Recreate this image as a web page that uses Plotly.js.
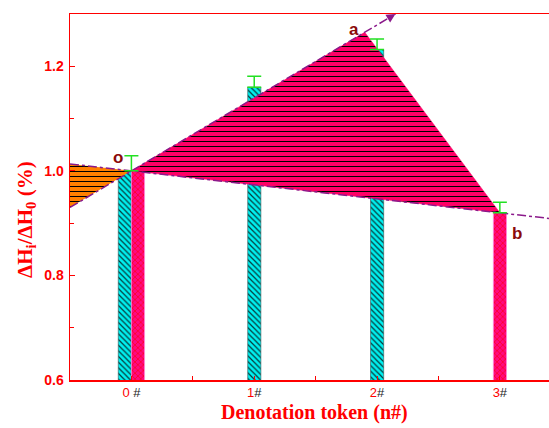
<!DOCTYPE html>
<html>
<head>
<meta charset="utf-8">
<script src="https://cdn.plot.ly/plotly-3.0.1.min.js"></script>
<style>html,body{margin:0;padding:0;background:#fff;}#chart{width:549px;height:428px;}</style>
</head>
<body>
<div id="chart"></div>
<script>
// ---- data ----
const tickVals = [0, 1, 2, 3];
const tickLabels = ["0 #", "1#", "2#", "3#"];

const cyanX = [0, 1, 2];
const cyanY = [1.00, 1.16, 1.232];

const pinkX = [0, 3];
const pinkY = [1.00, 0.92];

const errX = [0, 1, 2, 3];
const errY = [1.00, 1.16, 1.232, 0.92];
const errPlus = [0.029, 0.021, 0.020, 0.020];

// key points o, a, b
const triX = [0, 1.90, 3.00, 0];
const triY = [1.00, 1.265, 0.92, 1.00];

// opposite (left) triangle
const leftX = [-0.5, 0, -0.5, -0.5];
const leftY = [1.0133, 1.00, 0.930, 1.0133];

// dash-dot guide lines through o
const lineOAX = [-0.5, 2.15];
const lineOAY = [0.930, 1.300];
const lineOBX = [-0.5, 3.4];
const lineOBY = [1.0133, 0.909];

const labelText = ["o", "a", "b"];
const labelX = [-0.11, 1.81, 3.14];
const labelY = [1.026, 1.271, 0.881];

const red = "#FF0000";
const purple = "#8B1A8B";

const tickText = tickLabels.map(t => {
  const d = t.charAt(0);
  const rest = t.slice(1);
  return '<span style="color:#FF0000">' + d + '</span><span style="color:#222">' + rest + '</span>';
});

const traces = [
  {
    type: "bar", x: cyanX, y: cyanY, width: 0.107,
    offset: [-0.107, -0.053, -0.053],
    marker: {color: "#00F0F0", line: {color: "#335555", width: 0.6},
      pattern: {shape: "\\", fgcolor: "#083838", bgcolor: "#00F0F0", size: 4, solidity: 0.3}},
    hoverinfo: "skip", showlegend: false
  },
  {
    type: "bar", x: pinkX, y: pinkY, width: 0.107,
    offset: [0, -0.053],
    marker: {color: "#FF0A80", line: {color: "#FF88DD", width: 0.8},
      pattern: {shape: "x", fgcolor: "#FF0033", bgcolor: "#FF0A80", size: 4, solidity: 0.4}},
    hoverinfo: "skip", showlegend: false
  },
  {
    type: "scatter", mode: "lines", x: leftX, y: leftY, fill: "toself",
    fillcolor: "#FF8000", line: {width: 0, color: "#FF8000"},
    fillpattern: {shape: "-", fgcolor: "#000", bgcolor: "#FF8000", size: 5, solidity: 0.2},
    hoverinfo: "skip", showlegend: false
  },
  {
    type: "scatter", mode: "lines", x: triX, y: triY, fill: "toself",
    fillcolor: "#FF0066", line: {width: 0.5, color: "#FF0066"},
    fillpattern: {shape: "-", fgcolor: "#000", bgcolor: "#FF0066", size: 5, solidity: 0.2},
    hoverinfo: "skip", showlegend: false
  },
  {
    type: "scatter", mode: "lines", x: lineOAX, y: lineOAY,
    line: {color: purple, width: 1.5, dash: "dashdot"},
    hoverinfo: "skip", showlegend: false
  },
  {
    type: "scatter", mode: "lines", x: lineOBX, y: lineOBY,
    line: {color: purple, width: 1.5, dash: "dashdot"},
    hoverinfo: "skip", showlegend: false
  },
  {
    type: "scatter", mode: "markers", x: errX, y: errY,
    marker: {size: 0.1, color: "rgba(0,0,0,0)"},
    error_y: {type: "data", symmetric: false, array: errPlus, arrayminus: errPlus.map(() => 0),
      color: "#22E022", thickness: 1.5, width: 7},
    hoverinfo: "skip", showlegend: false
  }
];

const annotations = labelText.map((t, i) => ({
  x: labelX[i], y: labelY[i], xref: "x", yref: "y", text: "<b>" + t + "</b>",
  showarrow: false, font: {family: "Liberation Sans, Arial", size: 17, color: "#8B0A0A"}
}));
annotations.push({
  x: lineOAX[1], y: lineOAY[1], ax: 2.08, ay: 1.29, xref: "x", yref: "y", axref: "x", ayref: "y",
  text: "", showarrow: true, arrowhead: 2, arrowsize: 1.2, arrowwidth: 1.5, arrowcolor: purple
});
annotations.push({
  xref: "paper", yref: "paper", x: -0.092, y: 0.44, xanchor: "center", yanchor: "middle", textangle: -90,
  text: "<b>ΔH<sub>i</sub>/ΔH<sub>0</sub> (%)</b>", showarrow: false,
  font: {family: "Liberation Serif, Times New Roman", size: 21, color: red}
});
annotations.push({
  xref: "paper", yref: "paper", x: 0.51, y: -0.09, xanchor: "center", yanchor: "middle",
  text: "<b>Denotation token (n#)</b>", showarrow: false,
  font: {family: "Liberation Serif, Times New Roman", size: 20, color: red}
});

const layout = {
  width: 549, height: 428,
  margin: {l: 70, r: 0, t: 14, b: 48},
  paper_bgcolor: "#fff", plot_bgcolor: "#fff",
  barmode: "overlay",
  font: {family: "Liberation Sans, Arial", color: red},
  xaxis: {
    range: [-0.5, 3.4], showgrid: false, zeroline: false,
    showline: true, linecolor: red, linewidth: 1.5, mirror: true,
    tickmode: "array", tickvals: tickVals, ticktext: tickText,
    ticks: "inside", ticklen: 4, tickcolor: red, tickwidth: 1,
    tickfont: {family: "Liberation Sans, Arial", size: 13, color: red},
    minor: {tickmode: "array", tickvals: [0.5, 1.5, 2.5], ticks: "inside", ticklen: 4, tickcolor: red, tickwidth: 1.2}
  },
  yaxis: {
    range: [0.6, 1.3], showgrid: false, zeroline: false,
    showline: true, linecolor: red, linewidth: 1.5, mirror: false,
    tickmode: "array", tickvals: [0.6, 0.8, 1.0, 1.2], ticktext: ["0.6", "0.8", "1.0", "1.2"],
    ticks: "inside", ticklen: 5, tickcolor: red, tickwidth: 1.2, ticklabelstandoff: 2,
    tickfont: {family: "Liberation Sans, Arial", size: 14, color: red, weight: "bold"},
    minor: {tickmode: "array", tickvals: [0.7, 0.9, 1.1], ticks: "inside", ticklen: 4, tickcolor: red, tickwidth: 1.2}
  },
  annotations: annotations
};

Plotly.newPlot("chart", traces, layout, {displayModeBar: false, staticPlot: true});
</script>
</body>
</html>
